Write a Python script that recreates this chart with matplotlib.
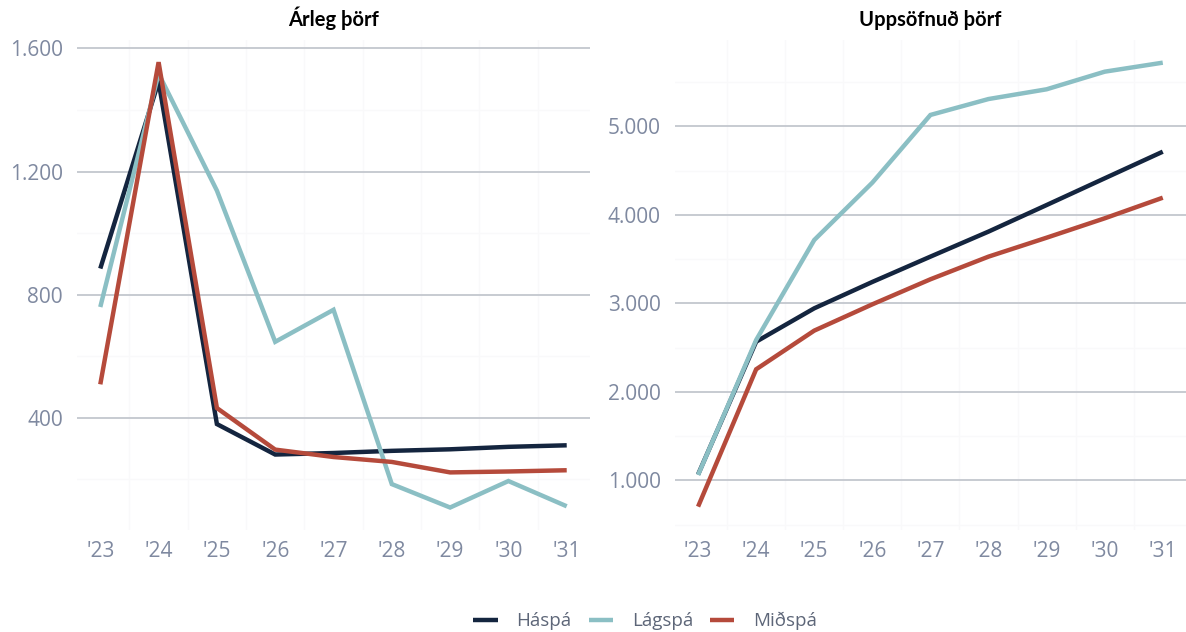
import matplotlib.pyplot as plt
from matplotlib.ticker import FuncFormatter, MultipleLocator

# ár og spár
years = ["'23", "'24", "'25", "'26", "'27", "'28", "'29", "'30", "'31"]
series_names = ["Háspá", "Lágspá", "Miðspá"]

# Árleg þörf
arleg_haspa = [885, 1492, 380, 281, 286, 293, 298, 306, 311]
arleg_lagspa = [760, 1518, 1138, 647, 751, 185, 109, 195, 113]
arleg_midspa = [509, 1555, 432, 297, 273, 257, 223, 226, 230]

# Uppsöfnuð þörf
uppsofnud_haspa = [1065, 2566, 2943, 3241, 3527, 3810, 4110, 4412, 4713]
uppsofnud_lagspa = [1060, 2585, 3715, 4363, 5128, 5308, 5418, 5617, 5719]
uppsofnud_midspa = [702, 2254, 2691, 2988, 3271, 3527, 3741, 3960, 4193]

colors = ["#14253f", "#8bbfc4", "#b54a3b"]
tick_color = "#7f89a0"
grid_color = "#c3c7ce"

plt.rcParams['font.family'] = ['Open Sans', 'DejaVu Sans']

fig = plt.figure(figsize=(11.86, 6.32), dpi=100)
ax1 = fig.add_axes([0.0649, 0.1614, 0.4326, 0.7753])
ax2 = fig.add_axes([0.569, 0.1614, 0.431, 0.7753])

thousands = FuncFormatter(lambda v, p: f"{int(v):,}".replace(",", "."))


def style(ax, title, major, minor, ylim):
    x = range(len(years))
    ax.set_xlim(-0.4, len(years) - 1 + 0.4)
    ax.set_ylim(*ylim)
    ax.set_xticks(list(x))
    ax.set_xticklabels(years)
    ax.set_xticks([i + 0.5 for i in range(len(years) - 1)], minor=True)
    ax.yaxis.set_major_locator(MultipleLocator(major))
    ax.yaxis.set_minor_locator(MultipleLocator(minor))
    ax.yaxis.set_major_formatter(thousands)
    ax.grid(axis="y", which="major", color=grid_color, lw=1.3)
    ax.grid(axis="y", which="minor", color="#f9f9fa", lw=1.0)
    ax.grid(axis="x", which="minor", color="#f9f9fa", lw=1.0)
    ax.set_axisbelow(True)
    for s in ax.spines.values():
        s.set_visible(False)
    ax.tick_params(which="both", length=0, labelsize=15, colors=tick_color)
    ax.tick_params(axis="y", pad=10)
    ax.tick_params(axis="x", pad=8)
    ax.set_title(title, fontsize=14.5, fontweight="bold", color="black", pad=10,
                 family=["Lato", "DejaVu Sans"])


lines = []
for vals, c, name in zip([arleg_haspa, arleg_lagspa, arleg_midspa], colors, series_names):
    ln, = ax1.plot(range(len(years)), vals, color=c, lw=3.2, label=name,
                   solid_capstyle="butt", solid_joinstyle="miter")
    lines.append(ln)
for vals, c in zip([uppsofnud_haspa, uppsofnud_lagspa, uppsofnud_midspa], colors):
    ax2.plot(range(len(years)), vals, color=c, lw=3.2,
             solid_capstyle="butt", solid_joinstyle="miter")

style(ax1, "Árleg þörf", 400, 200, (36, 1627))
style(ax2, "Uppsöfnuð þörf", 1000, 500, (438, 5975))

leg = fig.legend(lines, series_names, loc="center", bbox_to_anchor=(0.544, 0.017),
                 ncol=3, frameon=False, fontsize=13.5, handlelength=1.3,
                 handletextpad=1.0, columnspacing=0.9)
for t in leg.get_texts():
    t.set_color("#5d6678")

fig.savefig("out.png", dpi=100)
